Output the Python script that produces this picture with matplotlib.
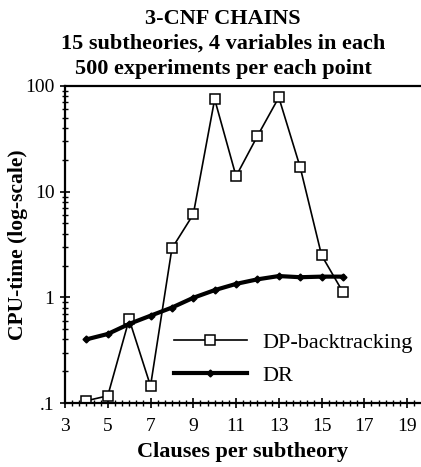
import matplotlib
matplotlib.use("Agg")
import matplotlib.pyplot as plt
from matplotlib.ticker import MultipleLocator, FixedLocator, FixedFormatter, LogLocator, NullFormatter

clauses = [4, 5, 6, 7, 8, 9, 10, 11, 12, 13, 14, 15, 16]
dp_backtracking = [0.105, 0.117, 0.62, 0.145, 2.9, 6.1, 75, 14, 33.6, 78, 17, 2.5, 1.12]
dr = [0.40, 0.45, 0.56, 0.67, 0.80, 0.99, 1.17, 1.34, 1.48, 1.59, 1.55, 1.57, 1.57]

x_ticks = [3, 5, 7, 9, 11, 13, 15, 17, 19]
y_ticks = [0.1, 1, 10, 100]
y_labels = [".1", "1", "10", "100"]

title = "3-CNF CHAINS\n15 subtheories, 4 variables in each\n500 experiments per each point"

plt.rcParams['font.family'] = ['Liberation Serif', 'DejaVu Serif']

fig = plt.figure(figsize=(4.21, 4.67), dpi=100)
ax = fig.add_axes([65/421, 1-403/467, 1-65/421, (403-86)/467])

ax.plot(clauses, dp_backtracking, color='black', lw=1.2, marker='s', ms=7,
        mfc='white', mec='black', mew=1.1, label='DP-backtracking')
ax.plot(clauses, dr, color='black', lw=3.0, marker='D', ms=3.5,
        mfc='black', mec='black', label='DR')

ax.set_yscale('log')
ax.set_ylim(0.1, 100)
ax.set_xlim(3, 19.65)

ax.xaxis.set_major_locator(FixedLocator(x_ticks))
ax.xaxis.set_minor_locator(MultipleLocator(1/3))
ax.yaxis.set_major_locator(FixedLocator(y_ticks))
ax.yaxis.set_major_formatter(FixedFormatter(y_labels))
ax.yaxis.set_minor_locator(LogLocator(base=10, subs=range(2, 10)))
ax.yaxis.set_minor_formatter(NullFormatter())

ax.tick_params(axis='both', which='major', direction='inout', length=7, width=1.2,
               labelsize=14)
ax.tick_params(axis='x', which='major', pad=7)
ax.tick_params(axis='y', which='major', pad=4)
ax.tick_params(axis='both', which='minor', direction='inout', length=4, width=1.0)

for s in ['left', 'bottom', 'top']:
    ax.spines[s].set_linewidth(1.6)
ax.spines['right'].set_visible(False)

ax.set_xlabel('Clauses per subtheory', fontsize=16, fontweight='bold', labelpad=5)
ax.set_ylabel('CPU-time (log-scale)', fontsize=15.5, fontweight='bold', labelpad=-2)

fig.text(0.53, 1-9/467, title, ha='center', va='top', fontsize=16,
         fontweight='bold', linespacing=1.33)

ax.legend(loc='upper left', bbox_to_anchor=(0.28, 0.25), frameon=False,
          fontsize=16, handlelength=3.3, handletextpad=0.7, labelspacing=0.55,
          borderaxespad=0)

fig.savefig('out.png', dpi=100, facecolor='white')
